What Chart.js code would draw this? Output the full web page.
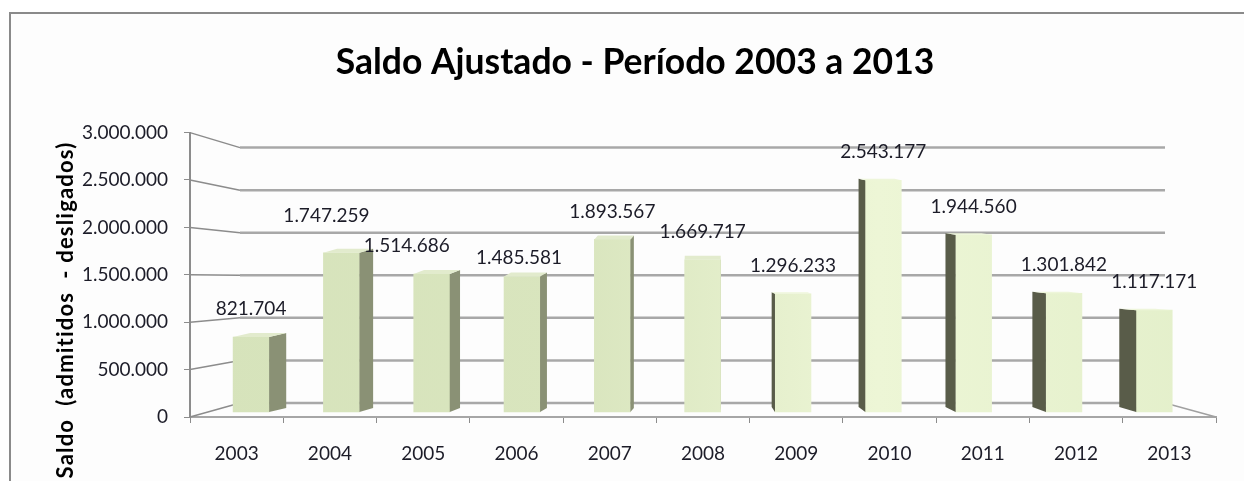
<!DOCTYPE html>
<html>
<head>
<meta charset="utf-8">
<script src="https://cdn.jsdelivr.net/npm/chart.js@4.4.1/dist/chart.umd.min.js"></script>
<style>
  html, body { margin: 0; padding: 0; background: #fff; }
  canvas { display: block; }
</style>
</head>
<body>
<canvas id="myChart" width="1244" height="481"></canvas>
<script>
// data
const years = ["2003", "2004", "2005", "2006", "2007", "2008", "2009", "2010", "2011", "2012", "2013"];
const saldo = [821704, 1747259, 1514686, 1485581, 1893567, 1669717, 1296233, 2543177, 1944560, 1301842, 1117171];
const yTicks = [0, 500000, 1000000, 1500000, 2000000, 2500000, 3000000];
const chartTitle = "Saldo Ajustado - Período 2003 a 2013";
const axisTitle = "Saldo  (admitidos  - desligados)";

const fmt = (v) => String(v).replace(/\B(?=(\d{3})+(?!\d))/g, ".");

Chart.defaults.font.family = "Lato, 'Open Sans', sans-serif";
Chart.defaults.color = "#1c1c28";

const ctx = document.getElementById("myChart").getContext("2d");

// labels moved by hand in the original
const labelNudge = { 1: [-15, -9], 2: [-25, 0], 3: [-3, 9] };

// frame + rotated axis title
const framePlugin = {
  id: "frame",
  beforeDraw(chart) {
    const c = chart.ctx;
    c.save();
    c.fillStyle = "#fdfdfd";
    c.fillRect(10, 13, chart.width - 10, chart.height - 13);
    c.strokeStyle = "#8a8a8a";
    c.lineWidth = 2;
    c.beginPath();
    c.moveTo(10, chart.height);
    c.lineTo(10, 13);
    c.lineTo(chart.width, 13);
    c.stroke();
    c.restore();
  },
  afterDraw(chart) {
    const c = chart.ctx;
    c.save();
    c.translate(66, 310);
    c.rotate(-Math.PI / 2);
    c.font = "bold 22px Lato, sans-serif";
    c.letterSpacing = "1.2px";
    c.fillStyle = "#000";
    c.textAlign = "center";
    c.textBaseline = "middle";
    c.fillText(axisTitle, 0, 0);
    c.restore();
  },
};

// walls and floor in perspective
const wallPlugin = {
  id: "walls",
  beforeDatasetsDraw(chart) {
    const c = chart.ctx;
    const x = chart.scales.x;
    const y = chart.scales.y;
    const backL = x.left + 50;
    const backR = x.right - 51;
    const backY = (v) => y.bottom - 14 - (y.bottom - y.getPixelForValue(v)) * 0.898;
    c.save();
    yTicks.forEach((v) => {
      const fy = y.getPixelForValue(v);
      const by = backY(v);
      c.strokeStyle = "#8c8c8c";
      c.lineWidth = 1.5;
      c.beginPath();
      c.moveTo(x.left, fy);
      c.lineTo(backL, by);
      c.stroke();
      c.strokeStyle = "#a8a8a8";
      c.lineWidth = 2.5;
      c.beginPath();
      c.moveTo(backL, by);
      c.lineTo(backR, by);
      c.stroke();
    });
    c.strokeStyle = "#a0a0a0";
    c.lineWidth = 1.5;
    c.beginPath();
    c.moveTo(backR, backY(0));
    c.lineTo(x.right, y.bottom);
    c.stroke();
    c.restore();
  },
};

// side / top faces and value labels
const barsPlugin = {
  id: "bars3d",
  afterDatasetsDraw(chart) {
    const c = chart.ctx;
    const a = chart.chartArea;
    const mid = (a.left + a.right) / 2 + 2;
    const meta = chart.getDatasetMeta(0);
    c.save();
    meta.data.forEach((bar, i) => {
      const p = bar.getProps(["x", "y", "base", "width"], true);
      const xl = p.x - p.width / 2;
      const xr = p.x + p.width / 2;
      const s = (mid - p.x) * 0.0377;
      const dyT = s > 0 ? 4 : 1.5;
      const dyB = s > 0 ? 4 : 5;
      const ex = s > 0 ? xr : xl;
      c.fillStyle = s > 0 ? "#8a9175" : "#595c49";
      c.beginPath();
      c.moveTo(ex, p.y);
      c.lineTo(ex + s, p.y - dyT);
      c.lineTo(ex + s, p.base - dyB);
      c.lineTo(ex, p.base);
      c.closePath();
      c.fill();
      c.fillStyle = s > 0 ? "#e2ebcd" : "#eef6da";
      c.beginPath();
      c.moveTo(xl, p.y);
      c.lineTo(xr, p.y);
      c.lineTo(xr + s, p.y - dyT);
      c.lineTo(xl + s, p.y - dyT);
      c.closePath();
      c.fill();

      const n = labelNudge[i] || [0, 0];
      c.font = "19px Lato, sans-serif";
      c.fillStyle = "#1c1c28";
      c.textAlign = "center";
      c.textBaseline = "middle";
      c.fillText(fmt(saldo[i]), p.x + n[0], p.y - 28 + n[1]);
    });
    c.restore();
  },
};

const myChart = new Chart(ctx, {
  type: "bar",
  data: {
    labels: years,
    datasets: [
      {
        label: "Saldo",
        data: saldo.map((v, i) => ({ x: i, y: v })),
        xAxisID: "xb",
        yAxisID: "yb",
        barThickness: 36,
        borderWidth: 0,
        backgroundColor: (c) => {
          const a = c.chart.chartArea;
          if (!a) return "#d7e4bd";
          const g = c.chart.ctx.createLinearGradient(a.left, 0, a.right, 0);
          g.addColorStop(0, "#d6e3bb");
          g.addColorStop(0.38, "#d9e5be");
          g.addColorStop(0.67, "#edf6d6");
          g.addColorStop(1, "#e3efca");
          return g;
        },
      },
    ],
  },
  options: {
    responsive: false,
    animation: false,
    layout: { padding: { left: 54, right: 28, top: 0, bottom: 0 } },
    plugins: {
      legend: { display: false },
      tooltip: { enabled: false },
      title: {
        display: true,
        text: chartTitle,
        color: "#000",
        font: { size: 35.5, weight: "bold" },
        padding: { top: 41, bottom: 49 },
      },
    },
    scales: {
      x: {
        type: "category",
        offset: true,
        grid: { drawOnChartArea: false, drawTicks: true, tickLength: 6, color: "#8c8c8c", offset: true },
        border: { display: true, color: "#a6a6a6", width: 2 },
        ticks: { font: { size: 19 }, padding: 19, maxRotation: 0 },
        afterFit: (scale) => { scale.height = 64; },
      },
      y: {
        min: 0,
        max: 3000000,
        afterBuildTicks: (scale) => { scale.ticks = yTicks.map((v) => ({ value: v })); },
        grid: { drawOnChartArea: false, drawTicks: true, tickLength: 6, color: "#8c8c8c" },
        border: { display: true, color: "#8c8c8c", width: 2 },
        ticks: { font: { size: 19 }, padding: 16, callback: (v) => fmt(v) },
        afterFit: (scale) => { scale.width = 136; },
      },
      xb: { type: "linear", display: false, offset: false, min: -0.6766, max: 10.684 },
      yb: { type: "linear", display: false, min: -55000, max: 3066000 },
    },
  },
  plugins: [framePlugin, wallPlugin, barsPlugin],
});
</script>
</body>
</html>
